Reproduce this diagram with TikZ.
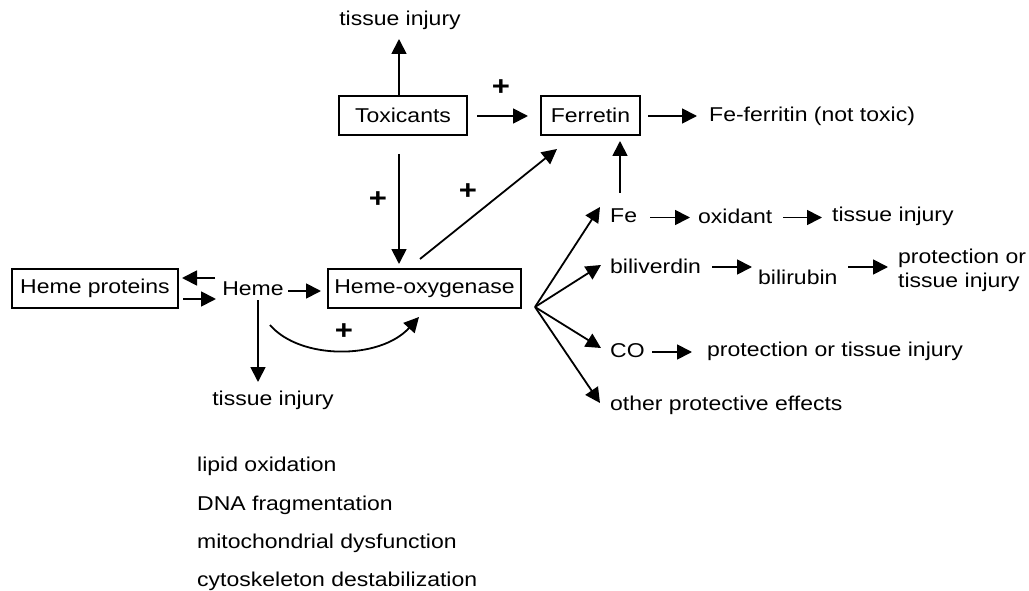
\documentclass[tikz,border=0pt]{standalone}
\usepackage{fontspec}
\setmainfont[FakeStretch=1.15]{Liberation Sans}
\usetikzlibrary{arrows.meta}
\tikzset{
  base/.style={font=\fontsize{20}{24}\selectfont, inner sep=0pt},
  box/.style={base, draw, line width=1.5pt, minimum height=39pt},
  lbl/.style={base, anchor=west},
  ctr/.style={base},
  plus/.style={inner sep=0pt, font=\fontsize{27}{28}\selectfont\bfseries},
  arr/.style={line width=1.8pt, -{Triangle[length=15pt,width=15pt]}},
  ln/.style={line width=1.8pt}
}
\begin{document}
\begin{tikzpicture}[x=1pt,y=-1pt]
\useasboundingbox (0,0) rectangle (1029,591);
% boxes
\node[box, minimum width=128pt] (tox) at (403,115.5) {Toxicants};
\node[box, minimum width=99pt] (fer) at (590.5,115.5) {Ferretin};
\node[box, minimum width=166pt] (hp) at (95,288.5) {Heme proteins};
\node[box, minimum width=193pt] (ho) at (424.5,288.5) {Heme-oxygenase};
% plain texts
\node[ctr] (ti1) at (400,20) {tissue injury};
\node[lbl] (fef) at (709,116) {Fe-ferritin (not toxic)};
\node[ctr] (heme) at (253,289) {Heme};
\node[ctr] (ti2) at (273,400) {tissue injury};
\node[lbl] (fe) at (610,216) {Fe};
\node[lbl] (oxi) at (698,216) {oxidant};
\node[lbl] (ti3) at (832,216) {tissue injury};
\node[lbl] (bv) at (610,266) {biliverdin};
\node[lbl] (br) at (758,277) {bilirubin};
\node[lbl, align=left] (pt1) at (898,270) {protection or\\tissue injury};
\node[lbl] (co) at (610,351) {CO};
\node[lbl] (pt2) at (707,351) {protection or tissue injury};
\node[lbl] (oth) at (610,405) {other protective effects};
\node[lbl] (l1) at (197,466) {lipid oxidation};
\node[lbl] (l2) at (197,505) {DNA fragmentation};
\node[lbl] (l3) at (197,543) {mitochondrial dysfunction};
\node[lbl] (l4) at (197,581) {cytoskeleton destabilization};
% plus signs
\node[plus] (p1) at (501,88) {+};
\node[plus] (p2) at (378,200) {+};
\node[plus] (p3) at (468,192) {+};
\node[plus] (p4) at (344,332) {+};
% connector end points
\coordinate (ti1t) at (399,39);
\coordinate (toxt) at (399,96);
\coordinate (toxb) at (399,154);
\coordinate (hotop) at (399,264);
\coordinate (hod) at (420,259);
\coordinate (ferbl) at (557,149);
\coordinate (toxr) at (477,116);
\coordinate (ferl) at (528,116);
\coordinate (ferr) at (648,116);
\coordinate (fefl) at (697,116);
\coordinate (feb) at (620,193);
\coordinate (ferb) at (620,141);
\coordinate (hmr1) at (215,278);
\coordinate (hpr1) at (182,278);
\coordinate (hpr2) at (183,299);
\coordinate (hml2) at (216,299);
\coordinate (hmr) at (288,291);
\coordinate (hol) at (321,291);
\coordinate (hmb) at (258,300);
\coordinate (ti2t) at (258,382);
\coordinate (cs) at (270,325);
\coordinate (ce) at (419,317);
\coordinate (fan) at (535,307);
\coordinate (tfe) at (600,207);
\coordinate (tbv) at (601,265);
\coordinate (tco) at (601,348);
\coordinate (tot) at (600,403);
% connectors
\draw[arr] (toxt) -- (ti1t);
\draw[arr] (toxr) -- (ferl);
\draw[arr] (ferr) -- (fefl);
\draw[arr] (toxb) -- (hotop);
\draw[arr] (hod) -- (ferbl);
\draw[arr] (feb) -- (ferb);
\draw[arr] (hmr1) -- (hpr1);
\draw[arr] (hpr2) -- (hml2);
\draw[arr] (hmr) -- (hol);
\draw[arr] (hmb) -- (ti2t);
\draw[arr] (cs) .. controls (300,360) and (380,360) .. (ce);
\draw[arr] (fan) -- (tfe);
\draw[arr] (fan) -- (tbv);
\draw[arr] (fan) -- (tco);
\draw[arr] (fan) -- (tot);
\draw[arr] (650,217.5) coordinate (a1s) -- (690,217.5) coordinate (a1e);
\draw[arr] (783,217.5) coordinate (a2s) -- (822,217.5) coordinate (a2e);
\draw[arr] (712,267) coordinate (a3s) -- (752,267) coordinate (a3e);
\draw[arr] (848,267) coordinate (a4s) -- (888,267) coordinate (a4e);
\draw[arr] (652,352) coordinate (a5s) -- (692,352) coordinate (a5e);
\end{tikzpicture}
\end{document}
